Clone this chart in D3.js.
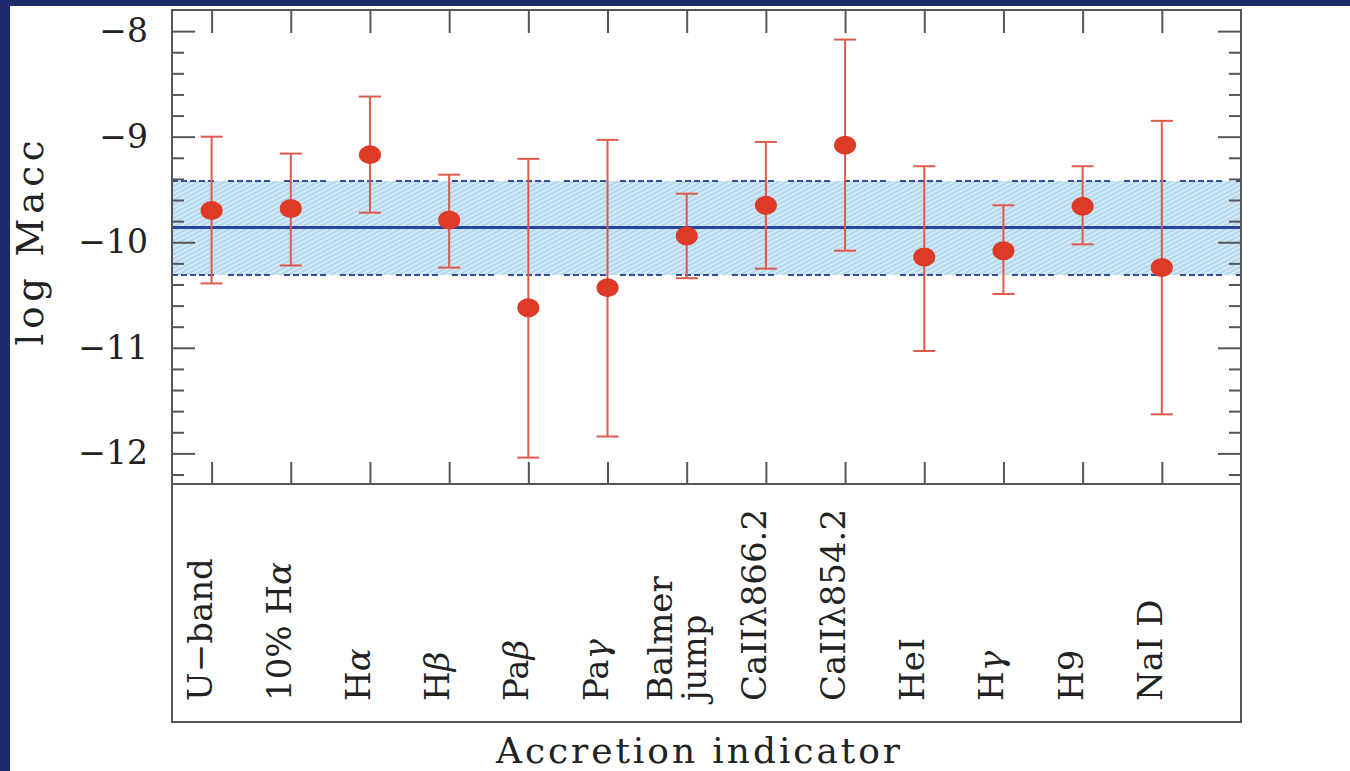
<!DOCTYPE html>
<html>
<head>
<meta charset="utf-8">
<script src="https://cdn.jsdelivr.net/npm/d3@7"></script>
<style>
  body { margin: 0; background: #fff; }
  svg { display: block; font-family: "DejaVu Serif", serif; }
</style>
</head>
<body>
<svg id="svg" width="1350" height="771"></svg>
<script>
// accretion indicators, one per column
const categories = ['U\u2212band', '10% H\u03b1', 'H\u03b1', 'H\u03b2', 'Pa\u03b2', 'Pa\u03b3',
  'Balmer|jump', 'CaII\u03bb866.2', 'CaII\u03bb854.2', 'HeI', 'H\u03b3', 'H9', 'NaI D'];
const logMacc = [-9.70, -9.68, -9.17, -9.79, -10.62, -10.43, -9.94, -9.65, -9.08, -10.14, -10.08, -9.66, -10.24];
const errTop = [-9.00, -9.16, -8.62, -9.36, -9.21, -9.03, -9.54, -9.05, -8.08, -9.28, -9.65, -9.28, -8.85];
const errBottom = [-10.39, -10.22, -9.72, -10.24, -12.04, -11.84, -10.34, -10.25, -10.08, -11.03, -10.49, -10.02, -11.63];

// mean and spread band
const bandMean = [-9.86];
const bandRange = [-9.42, -10.31];

const yTicks = [-8, -9, -10, -11, -12];
const xLabel = 'Accretion indicator';
const yLabel = 'log Macc';

const svg = d3.select('#svg');
const plotLeft = 172, plotRight = 1241, plotTop = 10, plotMid = 484, plotBottom = 722;

const xScale = d3.scaleLinear().domain([0.5, 14]).range([plotLeft, plotRight]);
const yScale = d3.scaleLinear().domain([-7.8, -12.29]).range([plotTop, plotMid]);

const minorTicks = d3.range(-12.2, -7.8, 0.2).map(v => +v.toFixed(1)).filter(v => !Number.isInteger(v));
const idx = categories.map((d, i) => i + 1);

// navy slide frame
svg.append('rect').attr('x', 0).attr('y', 0).attr('width', 1350).attr('height', 6).attr('fill', '#1d2a6b');
svg.append('rect').attr('x', 0).attr('y', 0).attr('width', 10).attr('height', 771).attr('fill', '#1d2a6b');

// hatch pattern for the band
const pattern = svg.append('defs').append('pattern')
  .attr('id', 'hatch')
  .attr('patternUnits', 'userSpaceOnUse')
  .attr('width', 10).attr('height', 4)
  .attr('patternTransform', 'rotate(-28)');
pattern.append('rect').attr('width', 10).attr('height', 4).attr('fill', '#d3eaf7');
pattern.append('line').attr('x1', 0).attr('x2', 10).attr('y1', 2).attr('y2', 2)
  .attr('stroke', '#9cc8e6').attr('stroke-width', 1.1);

svg.append('rect')
  .attr('x', plotLeft).attr('width', plotRight - plotLeft)
  .attr('y', yScale(bandRange[0]))
  .attr('height', yScale(bandRange[1]) - yScale(bandRange[0]))
  .attr('fill', 'url(#hatch)');

svg.selectAll('.band-edge')
  .data(bandRange)
  .join('line')
  .attr('class', 'band-edge')
  .attr('x1', plotLeft).attr('x2', plotRight)
  .attr('y1', d => yScale(d)).attr('y2', d => yScale(d))
  .attr('stroke', '#2f4f9c').attr('stroke-width', 2)
  .attr('stroke-dasharray', '6,3,6,3,6,3,6,3,6,14');

svg.selectAll('.band-mean')
  .data(bandMean)
  .join('line')
  .attr('class', 'band-mean')
  .attr('x1', plotLeft).attr('x2', plotRight)
  .attr('y1', d => yScale(d)).attr('y2', d => yScale(d))
  .attr('stroke', '#2a45a0').attr('stroke-width', 3);

// axes, ticks pointing inwards
const tickColor = '#555';
function styleAxis(g) {
  g.select('.domain').remove();
  g.selectAll('.tick line').attr('stroke', tickColor).attr('stroke-width', 2);
  g.selectAll('.tick text').attr('fill', '#222').attr('font-size', 33)
    .attr('font-family', '"DejaVu Serif", serif');
}

svg.append('g').attr('transform', `translate(${plotLeft},0)`)
  .call(d3.axisLeft(yScale).tickValues(yTicks).tickSize(-23).tickPadding(24).tickFormat(d3.format('d')))
  .call(styleAxis);
svg.append('g').attr('transform', `translate(${plotLeft},0)`)
  .call(d3.axisLeft(yScale).tickValues(minorTicks).tickSize(-12).tickFormat(''))
  .call(styleAxis);
svg.append('g').attr('transform', `translate(${plotRight},0)`)
  .call(d3.axisRight(yScale).tickValues(yTicks).tickSize(-23).tickFormat(''))
  .call(styleAxis);
svg.append('g').attr('transform', `translate(${plotRight},0)`)
  .call(d3.axisRight(yScale).tickValues(minorTicks).tickSize(-12).tickFormat(''))
  .call(styleAxis);
svg.append('g').attr('transform', `translate(0,${plotTop})`)
  .call(d3.axisTop(xScale).tickValues(idx).tickSize(-23).tickFormat(''))
  .call(styleAxis);
svg.append('g').attr('transform', `translate(0,${plotMid})`)
  .call(d3.axisBottom(xScale).tickValues(idx).tickSize(-22).tickFormat(''))
  .call(styleAxis);

// frames
svg.append('rect').attr('x', plotLeft).attr('y', plotTop).attr('width', plotRight - plotLeft).attr('height', plotMid - plotTop)
  .attr('fill', 'none').attr('stroke', tickColor).attr('stroke-width', 2);
svg.append('rect').attr('x', plotLeft).attr('y', plotMid).attr('width', plotRight - plotLeft).attr('height', plotBottom - plotMid)
  .attr('fill', 'none').attr('stroke', tickColor).attr('stroke-width', 2);

// error bars
const errColor = '#df5a4b';
const bars = svg.append('g').selectAll('g')
  .data(idx)
  .join('g')
  .attr('stroke', errColor).attr('stroke-width', 2);
bars.append('line')
  .attr('x1', d => xScale(d)).attr('x2', d => xScale(d))
  .attr('y1', (d, i) => yScale(errTop[i])).attr('y2', (d, i) => yScale(errBottom[i]));
bars.append('line')
  .attr('x1', d => xScale(d) - 11).attr('x2', d => xScale(d) + 11)
  .attr('y1', (d, i) => yScale(errTop[i])).attr('y2', (d, i) => yScale(errTop[i]));
bars.append('line')
  .attr('x1', d => xScale(d) - 11).attr('x2', d => xScale(d) + 11)
  .attr('y1', (d, i) => yScale(errBottom[i])).attr('y2', (d, i) => yScale(errBottom[i]));

svg.append('g').selectAll('ellipse')
  .data(idx)
  .join('ellipse')
  .attr('cx', d => xScale(d))
  .attr('cy', (d, i) => yScale(logMacc[i]))
  .attr('rx', 11).attr('ry', 9.5)
  .attr('fill', '#dd3b27');

// rotated category labels, greek letters in italic
const greek = /[\u03b1\u03b2\u03b3]/;
const labels = svg.append('g').selectAll('g')
  .data(idx)
  .join('g')
  .attr('transform', d => `translate(${xScale(d)},701) rotate(-90)`);
labels.each(function(d, i) {
  const lines = categories[i].split('|');
  const off = lines.length > 1 ? [-15, 19] : [0];
  lines.forEach((line, j) => {
    const t = d3.select(this).append('text')
      .attr('x', 0).attr('y', off[j])
      .attr('font-size', 34).attr('fill', '#222');
    line.split(/([\u03b1\u03b2\u03b3])/).filter(s => s).forEach(s => {
      t.append('tspan').text(s).attr('font-style', greek.test(s) ? 'italic' : null);
    });
  });
});

// axis titles
svg.append('text')
  .attr('x', 698).attr('y', 763)
  .attr('text-anchor', 'middle')
  .attr('font-size', 36).attr('fill', '#222')
  .attr('textLength', 404).attr('lengthAdjust', 'spacing')
  .text(xLabel);

svg.append('text')
  .attr('transform', 'translate(43,243) rotate(-90)')
  .attr('text-anchor', 'middle')
  .attr('font-size', 37).attr('fill', '#222')
  .attr('textLength', 205).attr('lengthAdjust', 'spacing')
  .text(yLabel);
</script>
</body>
</html>
